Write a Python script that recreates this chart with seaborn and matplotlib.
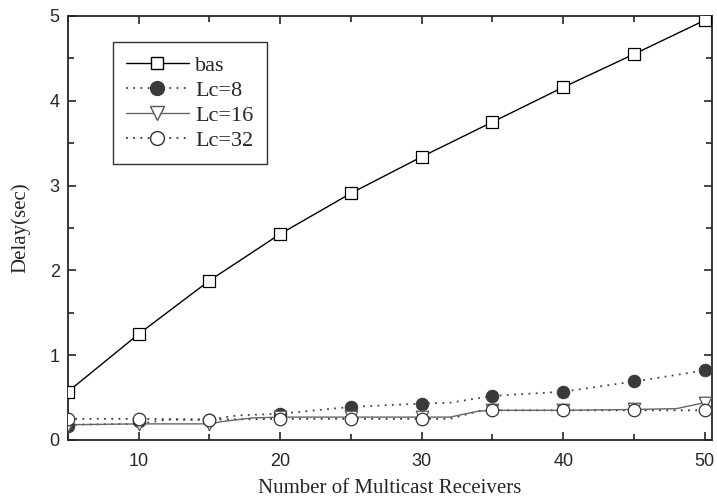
import matplotlib
matplotlib.use("Agg")
import matplotlib.pyplot as plt
import seaborn as sns
import pandas as pd
from matplotlib.ticker import MultipleLocator
from matplotlib.lines import Line2D

# marker data (every 5 receivers)
receivers = [5, 10, 15, 20, 25, 30, 35, 40, 45, 50]
bas = [0.57, 1.25, 1.88, 2.43, 2.91, 3.34, 3.75, 4.16, 4.55, 4.95]
lc8 = [0.17, 0.22, 0.24, 0.31, 0.39, 0.43, 0.52, 0.57, 0.69, 0.82]
lc16 = [0.18, 0.19, 0.19, 0.27, 0.27, 0.27, 0.35, 0.35, 0.36, 0.44]
lc32 = [0.25, 0.25, 0.24, 0.25, 0.25, 0.25, 0.35, 0.35, 0.35, 0.35]

# line traces (include breakpoints seen between markers)
lc8_x = [5, 10, 12, 15, 17, 20, 25, 30, 32, 35, 40, 45, 50]
lc8_line = [0.18, 0.19, 0.24, 0.24, 0.29, 0.31, 0.39, 0.43, 0.44, 0.52, 0.57, 0.69, 0.82]
lc16_x = [5, 10, 15, 16, 18, 20, 25, 30, 32, 34, 35, 40, 45, 48, 50]
lc16_line = [0.18, 0.19, 0.19, 0.22, 0.26, 0.27, 0.27, 0.27, 0.27, 0.34, 0.35, 0.35, 0.36, 0.37, 0.44]
lc32_x = [5, 10, 15, 20, 25, 30, 32, 34, 35, 40, 45, 50]
lc32_line = [0.25, 0.25, 0.24, 0.25, 0.25, 0.25, 0.25, 0.34, 0.35, 0.35, 0.35, 0.35]

sns.set_style("ticks")
plt.rcParams['font.family'] = ['Liberation Sans', 'DejaVu Sans']

fig = plt.figure(figsize=(7.17, 5.0), dpi=100)
ax = fig.add_axes([0.0948, 0.12, 0.898, 0.848])

sns.lineplot(x=lc8_x, y=lc8_line, ax=ax, color='#444444', linestyle=(0, (1, 3)), linewidth=1.3)
sns.lineplot(x=lc32_x, y=lc32_line, ax=ax, color='#333333', linestyle=(0, (1, 3)), linewidth=1.3)
sns.lineplot(x=lc16_x, y=lc16_line, ax=ax, color='#666666', linestyle='-', linewidth=1.0)
sns.lineplot(x=receivers, y=bas, ax=ax, color='black', linestyle='-', linewidth=1.0)

ms = 9
sns.scatterplot(x=receivers, y=lc8, ax=ax, marker='o', s=ms**2, color='#3a3a3a',
                edgecolor='#3a3a3a', zorder=3)
sns.scatterplot(x=receivers, y=lc16, ax=ax, marker='v', s=ms**2, color='white',
                edgecolor='#555555', linewidth=0.9, zorder=4)
sns.scatterplot(x=receivers, y=lc32, ax=ax, marker='o', s=ms**2, color='white',
                edgecolor='#333333', linewidth=0.9, zorder=5)
sns.scatterplot(x=receivers, y=bas, ax=ax, marker='s', s=8**2, color='white',
                edgecolor='black', linewidth=0.9, zorder=6)

ax.set_xlim(5, 50.5)
ax.set_ylim(0, 5)
ax.xaxis.set_major_locator(MultipleLocator(10))
ax.xaxis.set_minor_locator(MultipleLocator(5))
ax.yaxis.set_major_locator(MultipleLocator(1))
ax.yaxis.set_minor_locator(MultipleLocator(0.5))
ax.tick_params(which='both', direction='in', top=True, right=True, labelsize=13, width=1.2)
ax.tick_params(which='major', length=6)
ax.tick_params(which='minor', length=4)
ax.tick_params(axis='x', pad=9)
ax.tick_params(axis='y', pad=6)
for sp in ax.spines.values():
    sp.set_linewidth(1.3)

serif = ['Liberation Serif', 'DejaVu Serif']
ax.set_xlabel('Number of Multicast Receivers', family=serif, fontsize=15, labelpad=7)
ax.set_ylabel('Delay(sec)', family=serif, fontsize=15, labelpad=14)

handles = [
    Line2D([], [], color='black', linestyle='-', linewidth=1.0, marker='s', markersize=9,
           markerfacecolor='white', markeredgecolor='black'),
    Line2D([], [], color='#444444', linestyle=(0, (1, 3)), linewidth=1.3, marker='o', markersize=10,
           markerfacecolor='#3a3a3a', markeredgecolor='#3a3a3a'),
    Line2D([], [], color='#666666', linestyle='-', linewidth=1.0, marker='v', markersize=10,
           markerfacecolor='white', markeredgecolor='#555555'),
    Line2D([], [], color='#333333', linestyle=(0, (1, 3)), linewidth=1.3, marker='o', markersize=10,
           markerfacecolor='white', markeredgecolor='#333333'),
]
leg = ax.legend(handles, ['bas', 'Lc=8', 'Lc=16', 'Lc=32'], loc='upper left',
                bbox_to_anchor=(0.07, 0.939), borderaxespad=0, prop={'family': serif, 'size': 16},
                frameon=True, fancybox=False, edgecolor='black', handlelength=2.8,
                labelspacing=0.2, borderpad=0.6, handletextpad=0.3)
leg.get_frame().set_linewidth(1.0)

fig.savefig('out.png', dpi=100)
